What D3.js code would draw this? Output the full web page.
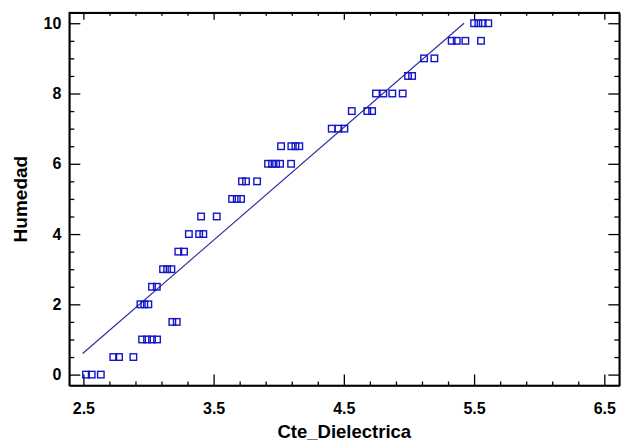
<!DOCTYPE html>
<html>
<head>
<meta charset="utf-8">
<script src="https://cdn.jsdelivr.net/npm/d3@7"></script>
<style>
  html, body { margin: 0; padding: 0; background: #fff; }
  svg { display: block; }
  text { font-family: "Liberation Sans", Arial, sans-serif; font-weight: bold; fill: #000; }
</style>
</head>
<body>
<svg id="chart" width="622" height="441"></svg>
<script>
// ---- Data ----
const cteDielectrica = [
  2.52, 2.564, 2.634,
  2.73, 2.774, 2.884,
  2.951, 2.989, 3.027, 3.066,
  3.183, 3.217,
  2.938, 2.968, 2.999,
  3.027, 3.064,
  3.112, 3.143, 3.176,
  3.229, 3.273,
  3.31, 3.389, 3.421,
  3.404, 3.524,
  3.642, 3.678, 3.711,
  3.718, 3.749, 3.834,
  3.918, 3.949, 3.98, 4.01, 4.095,
  4.018, 4.097, 4.128, 4.158,
  4.407, 4.458, 4.504,
  4.561, 4.68, 4.717,
  4.747, 4.803, 4.872, 4.952,
  4.993, 5.024,
  5.116, 5.195,
  5.328, 5.367, 5.433, 5.553,
  5.5, 5.533, 5.566, 5.609
];
const humedad = [
  0, 0, 0,
  0.5, 0.5, 0.5,
  1, 1, 1, 1,
  1.5, 1.5,
  2, 2, 2,
  2.5, 2.5,
  3, 3, 3,
  3.5, 3.5,
  4, 4, 4,
  4.5, 4.5,
  5, 5, 5,
  5.5, 5.5, 5.5,
  6, 6, 6, 6, 6,
  6.5, 6.5, 6.5, 6.5,
  7, 7, 7,
  7.5, 7.5, 7.5,
  8, 8, 8, 8,
  8.5, 8.5,
  9, 9,
  9.5, 9.5, 9.5, 9.5,
  10, 10, 10, 10
];
// fitted line end points
const fitX = [2.495, 5.423];
const fitY = [0.60, 10.0];

const xMajorTicks = [2.5, 3.5, 4.5, 5.5, 6.5];
const xTickLabels = ["2.5", "3.5", "4.5", "5.5", "6.5"];
const yMajorTicks = [0, 2, 4, 6, 8, 10];
const yTickLabels = ["0", "2", "4", "6", "8", "10"];
const xTitle = "Cte_Dielectrica";
const yTitle = "Humedad";

// ---- Layout ----
const svg = d3.select("#chart");
const L = 69.3, R = 619.3, T = 12.7, B = 385.5;

const x = d3.scaleLinear().domain([2.392, 6.615]).range([L, R]);
const y = d3.scaleLinear().domain([-0.31, 10.3]).range([B, T]);

const xMinor = d3.range(2.5, 6.6, 0.2).map(v => +v.toFixed(2)).filter(v => !xMajorTicks.some(m => Math.abs(m - v) < 1e-6));
const yMinor = d3.range(0, 10.01, 0.5).filter(v => !yMajorTicks.includes(v));

const axisColor = "#000";

// Bottom axis
const gB = svg.append("g").attr("transform", `translate(0,${B})`);
gB.call(d3.axisBottom(x).tickValues(xMajorTicks).tickFormat((d, i) => xTickLabels[i]).tickSizeInner(-11).tickSizeOuter(0));
gB.append("g").call(d3.axisBottom(x).tickValues(xMinor).tickFormat("").tickSizeInner(-4).tickSizeOuter(0))
  .call(g => g.select(".domain").remove());
gB.selectAll("text").attr("dy", null).attr("y", 28).style("font-size", "16px").style("font-weight", "bold")
  .style("font-family", "'Liberation Sans', Arial, sans-serif");

// Top axis
const gT = svg.append("g").attr("transform", `translate(0,${T})`);
gT.call(d3.axisTop(x).tickValues(xMajorTicks).tickFormat("").tickSizeInner(-7).tickSizeOuter(0));
gT.append("g").call(d3.axisTop(x).tickValues(xMinor).tickFormat("").tickSizeInner(-3).tickSizeOuter(0))
  .call(g => g.select(".domain").remove());

// Left axis
const gL = svg.append("g").attr("transform", `translate(${L},0)`);
gL.call(d3.axisLeft(y).tickValues(yMajorTicks).tickFormat((d, i) => yTickLabels[i]).tickSizeInner(-11).tickSizeOuter(0));
gL.append("g").call(d3.axisLeft(y).tickValues(yMinor).tickFormat("").tickSizeInner(-5).tickSizeOuter(0))
  .call(g => g.select(".domain").remove());
gL.selectAll("text").attr("x", -8).style("font-size", "16px").style("font-weight", "bold")
  .style("font-family", "'Liberation Sans', Arial, sans-serif");

// Right axis
const gR = svg.append("g").attr("transform", `translate(${R},0)`);
gR.call(d3.axisRight(y).tickValues(yMajorTicks).tickFormat("").tickSizeInner(-11).tickSizeOuter(0));
gR.append("g").call(d3.axisRight(y).tickValues(yMinor).tickFormat("").tickSizeInner(-5).tickSizeOuter(0))
  .call(g => g.select(".domain").remove());

svg.selectAll(".domain").attr("stroke", axisColor).attr("stroke-width", 1.6);
svg.selectAll(".tick line").attr("stroke", axisColor).attr("stroke-width", 1.3);

// Full domain lines for frame (ensure closed box)
svg.append("rect").attr("x", L).attr("y", T).attr("width", R - L).attr("height", B - T)
  .attr("fill", "none").attr("stroke", axisColor).attr("stroke-width", 1.6);

// Fitted line
svg.append("line")
  .attr("x1", x(fitX[0])).attr("y1", y(fitY[0]))
  .attr("x2", x(fitX[1])).attr("y2", y(fitY[1]))
  .attr("stroke", "#2a2aa0").attr("stroke-width", 1.1);

// Points
const pts = cteDielectrica.map((v, i) => ({ x: v, y: humedad[i] }));
const s = 6.5;
svg.append("g").selectAll("rect").data(pts).join("rect")
  .attr("x", d => x(d.x) - s / 2)
  .attr("y", d => y(d.y) - s / 2)
  .attr("width", s).attr("height", s)
  .attr("fill", "none").attr("stroke", "#1414c8").attr("stroke-width", 1.4);

// Axis titles
svg.append("text").attr("x", (L + R) / 2).attr("y", 438).attr("text-anchor", "middle")
  .style("font-size", "18.5px").text(xTitle);
svg.append("text").attr("transform", `translate(27,${(T + B) / 2}) rotate(-90)`).attr("text-anchor", "middle")
  .style("font-size", "19px").text(yTitle);
</script>
</body>
</html>
